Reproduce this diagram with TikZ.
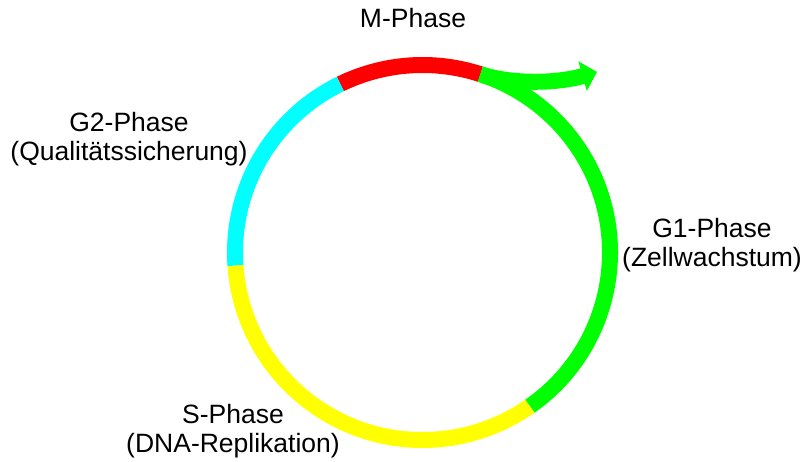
\documentclass[tikz,border=0pt]{standalone}
\usepackage{fontspec}
\setmainfont{Liberation Sans}
\usetikzlibrary{arrows.meta,calc}
\definecolor{mred}{RGB}{255,0,0}
\definecolor{mcyan}{RGB}{0,255,255}
\definecolor{myellow}{RGB}{255,255,0}
\definecolor{mgreen}{RGB}{0,255,0}
\begin{document}
\begin{tikzpicture}[x=1pt,y=1pt,
  phase/.style={line width=16pt},
  lbl/.style={align=center, font=\fontsize{26.5}{29.5}\selectfont, inner sep=0pt}]
\useasboundingbox (0,0) rectangle (804,-461);
\coordinate (c) at (422.5,-252.5);
\def\R{187.5}
\draw[phase, mred] ($(c)+(72:\R)$) arc[start angle=72, end angle=116, radius=\R];
\draw[phase, mcyan] ($(c)+(116:\R)$) arc[start angle=116, end angle=184, radius=\R];
\draw[phase, myellow] ($(c)+(184:\R)$) arc[start angle=184, end angle=305, radius=\R];
\draw[phase, mgreen] ($(c)+(305:\R)$) arc[start angle=305, end angle=432, radius=\R];
\coordinate (as) at ($(c)+(72:\R)$);
\coordinate (at) at (597,-72);
\draw[phase, mgreen, -{Triangle[length=15pt,width=30pt]}] (as) .. controls (510,-84) and (555,-84) .. (at);
\node[lbl] (m) at (413,-18) {M-Phase};
\node[lbl] (g2) at (129,-139) {G2-Phase\\(Qualitätssicherung)};
\node[lbl] (g1) at (712,-245) {G1-Phase\\(Zellwachstum)};
\node[lbl] (s) at (233,-431) {S-Phase\\(DNA-Replikation)};
\end{tikzpicture}
\end{document}
